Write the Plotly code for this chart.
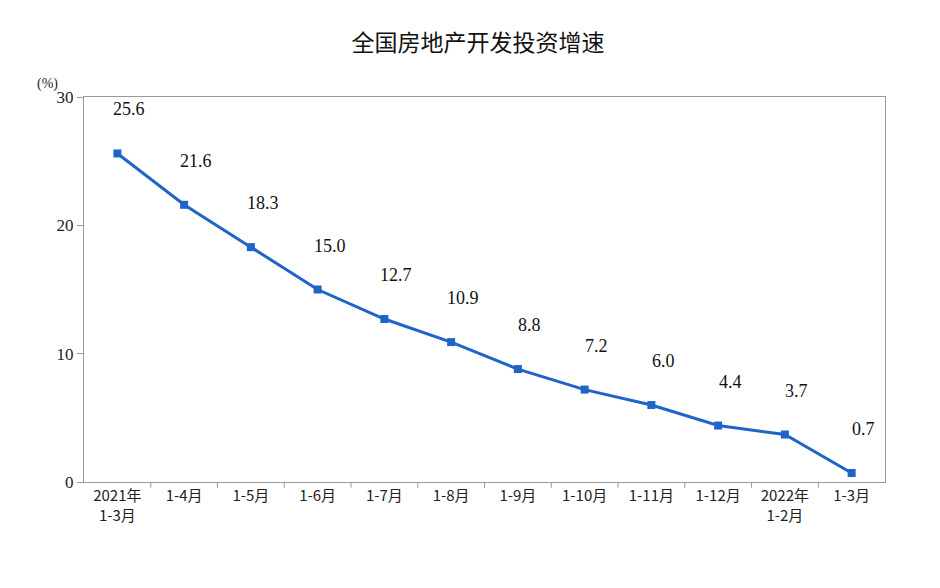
import plotly.graph_objects as go

categories = ["2021年<br>1-3月", "1-4月", "1-5月", "1-6月", "1-7月", "1-8月", "1-9月",
              "1-10月", "1-11月", "1-12月", "2022年<br>1-2月", "1-3月"]
values = [25.6, 21.6, 18.3, 15.0, 12.7, 10.9, 8.8, 7.2, 6.0, 4.4, 3.7, 0.7]
labels = ["25.6", "21.6", "18.3", "15.0", "12.7", "10.9", "8.8", "7.2", "6.0", "4.4", "3.7", "0.7"]

color = "#1f64c8"
fig = go.Figure(go.Scatter(
    x=list(range(len(categories))), y=values, mode="lines+markers",
    line=dict(color=color, width=3), marker=dict(symbol="square", size=8, color=color),
))
for i, (v, t) in enumerate(zip(values, labels)):
    fig.add_annotation(x=i, y=v, text=t, showarrow=False, yshift=44, xshift=12,
                       font=dict(family="Liberation Serif", size=18, color="#111"))
fig.add_annotation(x=-0.045, y=1.06, xref="paper", yref="paper", text="(%)", showarrow=False,
                   font=dict(family="Liberation Serif", size=14, color="#222"), xanchor="center")

fig.update_layout(
    width=940, height=588, paper_bgcolor="white", plot_bgcolor="white",
    margin=dict(l=76, r=63, t=89, b=114),
    title=dict(text="全国房地产开发投资增速", x=0.5, y=0.955, xanchor="center",
               font=dict(family="Noto Sans CJK SC", size=23, color="#111")),
    showlegend=False,
    xaxis=dict(range=[-0.5, 11.5], tickvals=list(range(12)), ticktext=categories,
               showgrid=False, showline=True, linecolor="#999", mirror=True, ticks="",
               tickfont=dict(family="Noto Sans CJK SC", size=15, color="#222")),
    yaxis=dict(range=[0, 30], tickvals=[0, 10, 20, 30], showgrid=False, showline=True,
               linecolor="#999", mirror=True, ticks="outside", ticklen=6, tickcolor="#999",
               tickfont=dict(family="Liberation Serif", size=17, color="#222")),
)
for b in range(1, 12):
    fig.add_shape(type="line", x0=b - 0.5, x1=b - 0.5, y0=0, y1=-0.015, xref="x", yref="paper",
                  line=dict(color="#999", width=1))
fig.write_html("out.html")
